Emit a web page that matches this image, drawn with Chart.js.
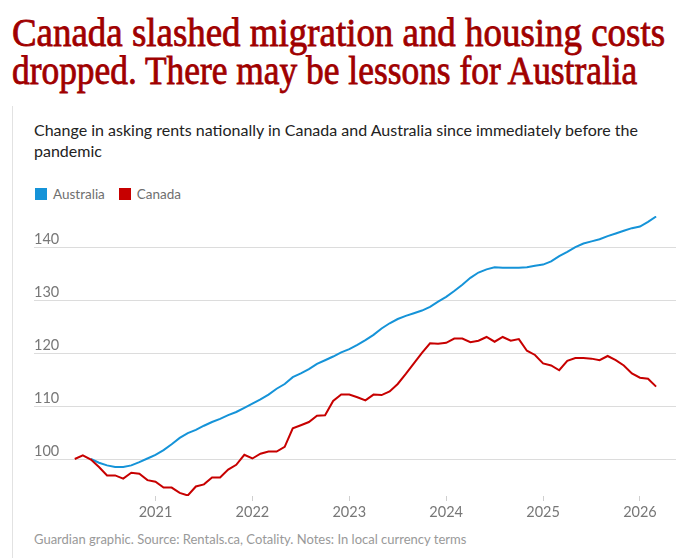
<!DOCTYPE html>
<html>
<head>
<meta charset="utf-8">
<script src="https://cdn.jsdelivr.net/npm/chart.js@4.4.1/dist/chart.umd.min.js"></script>
<style>
  html, body { margin: 0; padding: 0; background: #fff; }
  body { width: 680px; height: 558px; position: relative; overflow: hidden; font-family: Lato, "Liberation Sans", sans-serif; }
  #title { position: absolute; left: 12px; top: 14px; margin: 0; font-family: "Liberation Serif", serif; font-weight: 400; font-size: 40px; line-height: 38px; color: #a00000; -webkit-text-stroke: 0.8px #a00000; white-space: nowrap; }
  #title span { display: block; transform-origin: 0 0; }
  #rule { position: absolute; left: 12px; top: 106px; width: 1px; height: 452px; background: #e2e2e2; }
  #sub { position: absolute; left: 34px; top: 119px; width: 640px; font-size: 16px; line-height: 21px; color: #222; }
  #legend { position: absolute; left: 35px; top: 186px; font-size: 13.5px; color: #6f6f6f; }
  #legend span { display: inline-block; margin-right: 14px; }
  #legend i { display: inline-block; width: 12px; height: 12px; vertical-align: -1px; margin-right: 6px; }
  #wrap { position: absolute; left: 0; top: 200px; width: 680px; height: 326px; }
  #foot { position: absolute; left: 34px; top: 531px; font-size: 13px; color: #999; }
</style>
</head>
<body>
<h1 id="title"><span>Canada slashed migration and housing costs</span><span>dropped. There may be lessons for Australia</span></h1>
<div id="rule"></div>
<div id="sub">Change in asking rents nationally in Canada and Australia since immediately before the pandemic</div>
<div id="legend"><span><i style="background:#1593d8"></i>Australia</span><span><i style="background:#c70000"></i>Canada</span></div>
<div id="wrap"><canvas id="myChart"></canvas></div>
<div id="foot">Guardian graphic. Source: Rentals.ca, Cotality. Notes: In local currency terms</div>

<script>
// monthly, March 2020 to March 2026 (index 100 = just before the pandemic)
const startYear = 2020, startMonth = 3

const canada = [
  100.0, 100.7, 99.9, 98.5, 96.9, 96.9, 96.3, 97.4, 97.2, 96.0,
  95.7, 94.6, 94.6, 93.6, 93.1, 94.8, 95.2, 96.5, 96.5, 98.0, 98.9, 100.8,
  100.1, 101.0, 101.4, 101.4, 102.3, 105.8, 106.4, 107.0, 108.2, 108.3, 111.0, 112.2,
  112.2, 111.7, 111.1, 112.2, 112.1, 112.8, 114.2, 116.1, 118.1, 120.1, 121.9, 121.8,
  122.0, 122.8, 122.8, 122.1, 122.4, 123.1, 122.2, 123.1, 122.4, 122.7, 120.5, 119.7,
  118.1, 117.7, 116.8, 118.6, 119.1, 119.1, 119.0, 118.7, 119.5, 118.7, 117.7, 116.2,
  115.4, 115.2, 113.7
]

// Australia series begins in May 2020
const australia = [
  null, null, 100.0, 99.3, 98.8, 98.5, 98.5, 98.8, 99.4, 100.1,
  100.8, 101.7, 102.8, 104.0, 104.9, 105.5, 106.3, 107.0, 107.6, 108.3, 108.9, 109.7,
  110.5, 111.3, 112.2, 113.3, 114.2, 115.5, 116.2, 117.0, 118.0, 118.7, 119.4, 120.2,
  120.8, 121.6, 122.5, 123.5, 124.7, 125.7, 126.5, 127.1, 127.6, 128.1, 128.8, 129.8,
  130.7, 131.8, 133.0, 134.3, 135.3, 135.9, 136.3, 136.2, 136.2, 136.2, 136.3, 136.6,
  136.8, 137.4, 138.4, 139.2, 140.1, 140.8, 141.2, 141.6, 142.2, 142.7, 143.2, 143.7,
  144.0, 144.9, 145.9
]

const yearTicks = [2021, 2022, 2023, 2024, 2025, 2026]
const valueTicks = [100, 110, 120, 130, 140]

// fit each headline line to the width it has in the original
const lineWidths = [653, 626]
document.querySelectorAll('#title span').forEach((s, i) => {
  const k = lineWidths[i] / s.getBoundingClientRect().width
  s.style.transform = 'scaleX(' + k + ')'
})

function dateOf(i) {
  return startYear + (startMonth - 1 + i) / 12
}

function points(arr) {
  return arr.map((v, i) => ({ x: dateOf(i), y: v }))
}

const ctx = document.getElementById('myChart').getContext('2d')
const myChart = new Chart(ctx, {
  type: 'line',
  data: {
    datasets: [{
      label: 'Canada',
      data: points(canada),
      borderColor: '#c70000',
      borderWidth: 2,
      pointRadius: 0,
      tension: 0,
      order: 0
    }, {
      label: 'Australia',
      data: points(australia),
      borderColor: '#1593d8',
      borderWidth: 2,
      pointRadius: 0,
      tension: 0,
      spanGaps: false,
      order: 1
    }]
  },
  options: {
    responsive: true,
    maintainAspectRatio: false,
    animation: false,
    layout: { padding: { left: 34, right: 4, top: 16, bottom: 0 } },
    plugins: { legend: { display: false }, tooltip: { enabled: false } },
    scales: {
      x: {
        type: 'linear',
        min: 2019.746,
        max: 2026.372,
        afterBuildTicks: s => { s.ticks = yearTicks.map(v => ({ value: v })) },
        afterFit: s => { s.height = 30 },
        border: { display: false },
        grid: { drawOnChartArea: false, drawTicks: true, tickLength: 5, color: '#cfcfcf' },
        ticks: {
          padding: 3,
          color: '#777',
          font: { family: 'Lato', size: 14.5 },
          callback: v => String(v)
        }
      },
      y: {
        min: 93,
        max: 146,
        afterBuildTicks: s => { s.ticks = valueTicks.map(v => ({ value: v })) },
        afterFit: s => { s.width = 0 },
        border: { display: false },
        grid: { color: '#dcdcdc', drawTicks: false },
        ticks: {
          mirror: true,
          padding: 0,
          labelOffset: -8,
          color: '#777',
          font: { family: 'Lato', size: 14.5 }
        }
      }
    }
  }
})
</script>
</body>
</html>
